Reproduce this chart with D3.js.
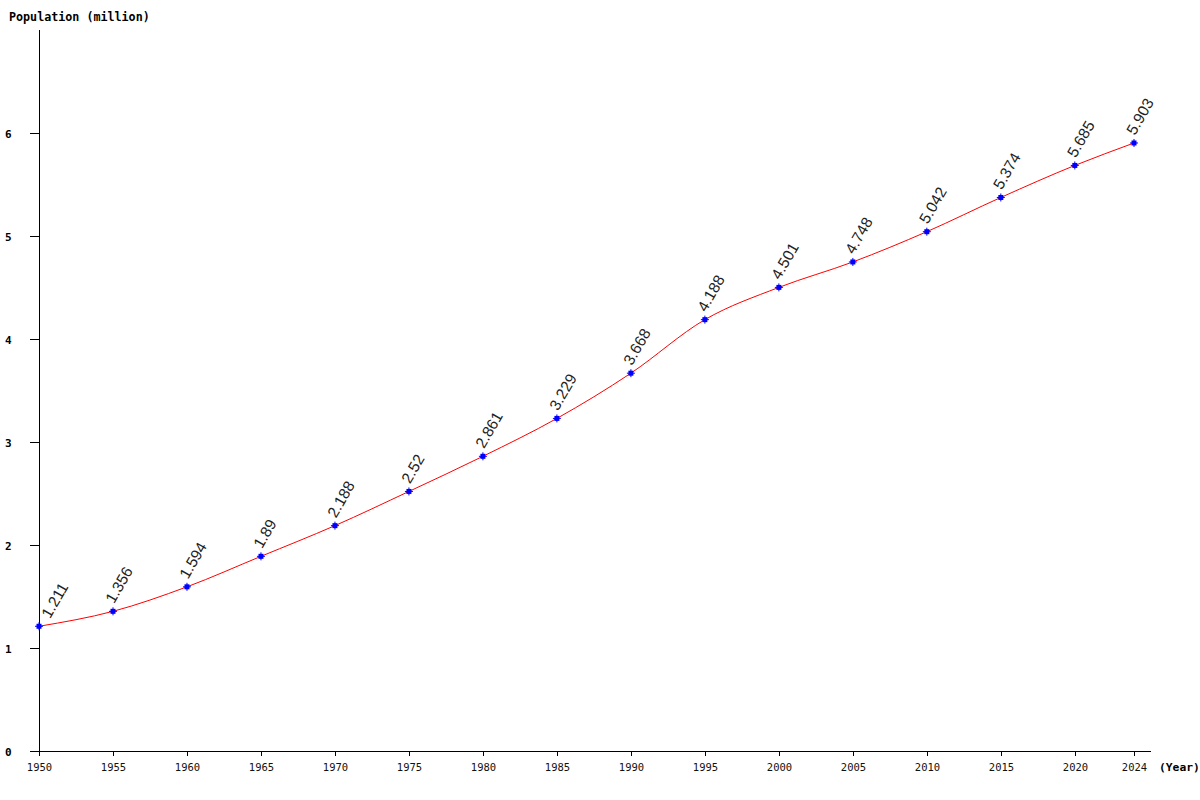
<!DOCTYPE html>
<html><head><meta charset="utf-8">
<script src="https://cdn.jsdelivr.net/npm/d3@7"></script>
<style>body{margin:0;background:#fff}svg{display:block}</style>
</head><body>
<script>
const years = [1950,1955,1960,1965,1970,1975,1980,1985,1990,1995,2000,2005,2010,2015,2020,2024];
const population = [1.211,1.356,1.594,1.89,2.188,2.52,2.861,3.229,3.668,4.188,4.501,4.748,5.042,5.374,5.685,5.903];
const yTicks = [0,1,2,3,4,5,6];
const xTicks = [1950,1955,1960,1965,1970,1975,1980,1985,1990,1995,2000,2005,2010,2015,2020,2024];

const W=1200,H=800;
const svg=d3.select("body").append("svg").attr("width",W).attr("height",H);
const x=d3.scaleLinear().domain([1950,2024]).range([39,1134]);
const y=d3.scaleLinear().domain([0,7]).range([751,30]);
const mono="'DejaVu Sans Mono','Liberation Mono',monospace";

svg.append("line").attr("x1",39.5).attr("x2",39.5).attr("y1",30).attr("y2",751).attr("stroke","#000");
svg.append("line").attr("x1",30).attr("x2",1151).attr("y1",751.5).attr("y2",751.5).attr("stroke","#000");

yTicks.forEach(t=>{
  const yy=Math.round(y(t))+0.5;
  svg.append("line").attr("x1",30).attr("x2",39).attr("y1",yy).attr("y2",yy).attr("stroke","#000");
  svg.append("text").attr("x",5).attr("y",yy+4).text(t)
    .attr("font-family",mono).attr("font-size",11).attr("font-weight","bold");
});
xTicks.forEach(t=>{
  const xx=Math.round(x(t))+0.5;
  svg.append("line").attr("x1",xx).attr("x2",xx).attr("y1",751).attr("y2",756).attr("stroke","#000");
  svg.append("text").attr("x",xx).attr("y",771).attr("text-anchor","middle").text(t)
    .attr("font-family",mono).attr("font-size",10.5).attr("fill","#111");
});
svg.append("text").attr("x",9).attr("y",21).text("Population (million)")
  .attr("font-family",mono).attr("font-size",11.7).attr("font-weight","bold");
svg.append("text").attr("x",1159).attr("y",771).text("(Year)")
  .attr("font-family",mono).attr("font-size",11.3).attr("font-weight","bold");

const data=years.map((yr,i)=>({yr,v:population[i]}));
const line=d3.line().x(d=>x(d.yr)).y(d=>y(d.v)).curve(d3.curveMonotoneX);
svg.append("path").datum(data).attr("d",line).attr("fill","none").attr("stroke","#ff0000").attr("stroke-width",1);

data.forEach(d=>{
  const cx=x(d.yr),cy=y(d.v);
  svg.append("rect").attr("x",cx-2.5).attr("y",cy-2.5).attr("width",5).attr("height",5).attr("fill","#0000ff");
  svg.append("line").attr("x1",cx).attr("x2",cx).attr("y1",cy-4).attr("y2",cy+4).attr("stroke","#0000ff");
  svg.append("line").attr("x1",cx-4).attr("x2",cx+4).attr("y1",cy).attr("y2",cy).attr("stroke","#0000ff");
  const lx=Math.max(cx+1,50);
  svg.append("text").attr("transform",`translate(${lx},${cy-7}) rotate(-60)`).text(d.v)
    .attr("font-family","'Liberation Sans',Arial,sans-serif").attr("font-size",15.5).attr("fill","#222");
});
</script>
</body></html>
